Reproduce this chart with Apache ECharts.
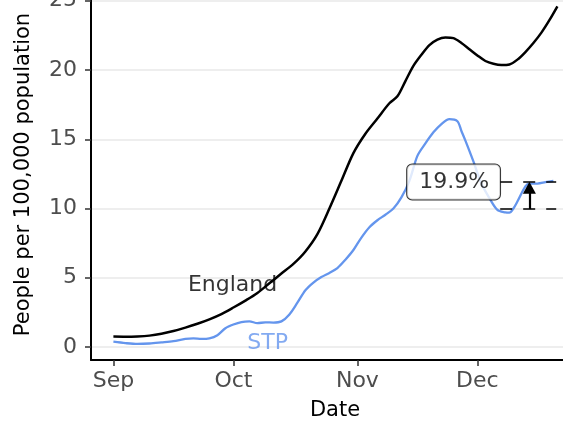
<!DOCTYPE html>
<html>
<head>
<meta charset="utf-8">
<script src="https://cdn.jsdelivr.net/npm/echarts@6/dist/echarts.min.js"></script>
<style>
html,body{margin:0;padding:0;background:#fff;}
#chart{width:563px;height:423px;}
</style>
</head>
<body>
<div id="chart"></div>
<script>
// Days since 1 September
const englandDays = [0,3,6,9,12,15,18,21,24,27,30,33,36,39,42,45,48,51,54,57,60,63,66,69,71,73,75,77,79,81,83,85,87,89,91,93,95,97,99,101,103,105,107,109,111];
const englandRate = [0.75,0.74,0.76,0.82,0.95,1.15,1.4,1.68,2.0,2.38,2.85,3.35,3.9,4.6,5.3,6.0,6.9,8.15,10.0,12.0,14.0,15.4,16.5,17.6,18.1,19.2,20.3,21.1,21.8,22.2,22.35,22.3,21.95,21.5,21.05,20.65,20.45,20.36,20.4,20.75,21.3,21.95,22.7,23.6,24.6];

const stpDays = [0,3,6,9,12,15,18,20,22,24,26,28,30,32,34,36,38,40,42,44,46,48,50,52,54,56,58,60,62,64,66,68,70,72,74,76,78,80,82,84,86,87,88,90,92,94,96,98,99,100,101,103,104,106,108,110];
const stpRate = [0.38,0.28,0.22,0.25,0.33,0.42,0.58,0.62,0.58,0.62,0.85,1.35,1.62,1.8,1.85,1.72,1.78,1.76,1.85,2.35,3.2,4.1,4.65,5.05,5.35,5.7,6.3,7.0,7.9,8.65,9.15,9.55,10.0,10.8,12.0,13.8,14.7,15.5,16.1,16.45,16.3,15.6,14.9,13.4,11.8,10.75,9.9,9.72,9.7,10.0,10.5,11.6,11.8,11.8,11.9,12.0];

const monthTicks = [0,30,61,91];
const monthLabels = ['Sep','Oct','Nov','Dec'];
const yTicks = [0,5,10,15,20,25];

// annotation values
const gapUpper = 11.94;
const gapLower = 9.96;
const gapLabel = '19.9%';

const englandData = englandDays.map((d,i)=>[d, englandRate[i]]);
const stpData = stpDays.map((d,i)=>[d, stpRate[i]]);

const chart = echarts.init(document.getElementById('chart'));
const FONT = 'DejaVu Sans';
chart.setOption({
  animation: false,
  backgroundColor: '#ffffff',
  textStyle: {fontFamily: FONT},
  grid: {left: 91, width: 488, top: -11, height: 371, containLabel: false, outerBoundsMode: 'none'},
  xAxis: {
    type: 'value', min: -5.6, max: 116.4,
    name: 'Date', nameLocation: 'middle', nameGap: 40,
    nameTextStyle: {fontFamily: FONT, fontSize: 21, color: '#000'},
    axisLine: {show: true, onZero: false, lineStyle: {color: '#000', width: 2}},
    axisTick: {show: true, customValues: monthTicks, length: 6, lineStyle: {color: '#333', width: 1.5}},
    axisLabel: {customValues: monthTicks, fontFamily: FONT, fontSize: 22, color: '#4d4d4d', margin: 10,
      formatter: v => monthLabels[monthTicks.indexOf(v)] || ''},
    splitLine: {show: false}
  },
  yAxis: {
    type: 'value', min: -0.94, max: 25.85,
    name: 'People per 100,000 population', nameLocation: 'middle', nameGap: 57, nameRotate: 90,
    nameTextStyle: {fontFamily: FONT, fontSize: 21, color: '#000'},
    axisLine: {show: true, onZero: false, lineStyle: {color: '#000', width: 2}},
    axisTick: {show: true, customValues: yTicks, length: 6, lineStyle: {color: '#333', width: 1.5}},
    axisLabel: {customValues: yTicks, fontFamily: FONT, fontSize: 22, color: '#4d4d4d', margin: 14},
    splitLine: {show: true, lineStyle: {color: '#e8e8e8', width: 1.6}}
  },
  series: [
    {
      type: 'line', name: 'STP', data: stpData, smooth: 0.3, symbol: 'none',
      lineStyle: {color: '#6495ED', width: 2.3}, z: 2,
      markLine: {
        silent: true, symbol: 'none', animation: false,
        label: {show: false},
        data: [
          [{coord: [96.7, gapUpper], lineStyle: {color: '#000', width: 1.6, type: [12, 11]}}, {coord: [110.7, gapUpper]}],
          [{coord: [96.7, gapLower], lineStyle: {color: '#000', width: 1.6, type: [12, 11]}}, {coord: [110.7, gapLower]}],
          [{coord: [104, gapLower], symbol: 'none', lineStyle: {color: '#000', width: 2.2, type: 'solid'}},
           {coord: [104, gapUpper - 0.45], symbol: 'triangle', symbolSize: [13, 12]}]
        ]
      }
    },
    {
      type: 'line', name: 'England', data: englandData, smooth: 0.3, symbol: 'none',
      lineStyle: {color: '#000', width: 2.5}, z: 3
    },
    {
      type: 'scatter', symbolSize: 1, itemStyle: {color: 'rgba(0,0,0,0)'}, z: 5, silent: true,
      data: [
        {value: [29.8, 4.42], label: {formatter: 'England', color: '#000'}},
        {value: [38.55, 0.3], label: {formatter: 'STP', color: '#6495ED'}},
        {value: [85.05, 11.91], label: {formatter: gapLabel, color: '#000', backgroundColor: '#fff',
          borderColor: '#000', borderWidth: 1, borderRadius: 5, padding: [5, 11, 4, 12], lineHeight: 26}}
      ],
      label: {show: true, position: 'inside', fontFamily: FONT, fontSize: 22, align: 'center', verticalAlign: 'middle'}
    }
  ]
});
</script>
</body>
</html>
